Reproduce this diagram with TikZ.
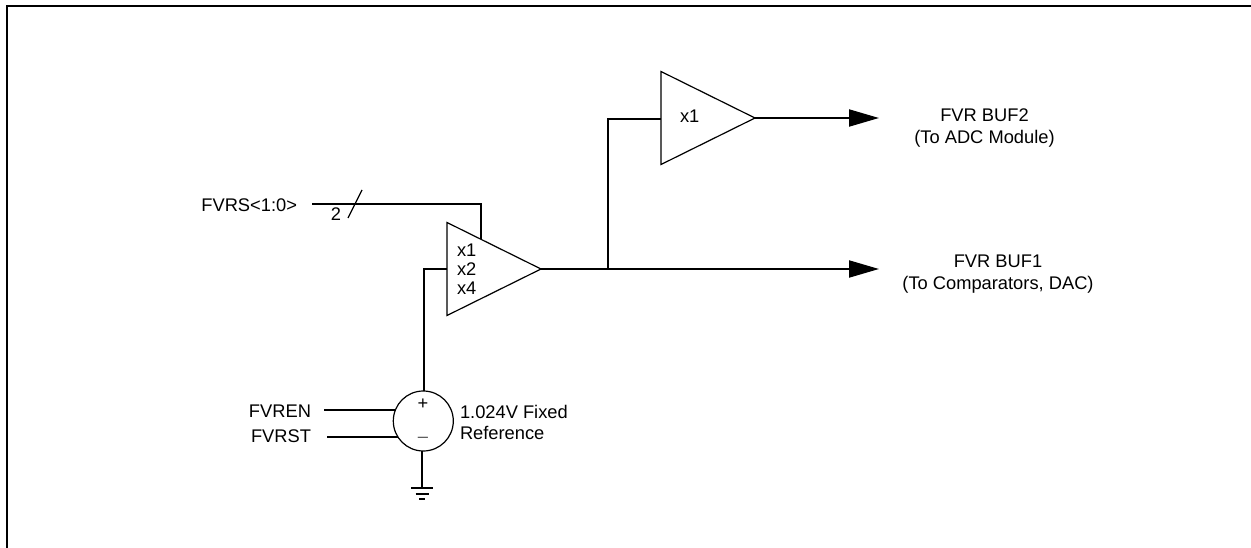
\documentclass[tikz,border=0pt]{standalone}
\usepackage{fontspec}
\setmainfont{Liberation Sans}
\usetikzlibrary{shapes.geometric,arrows.meta}
\tikzset{
  x=1pt,y=-1pt,
  wire/.style={line width=2pt,line cap=butt,line join=miter},
  amp/.style={draw,line width=1.2pt,isosceles triangle,isosceles triangle apex angle=53,isosceles triangle stretches,minimum width=93pt,minimum height=94pt,inner sep=0pt,outer sep=0pt,anchor=apex},
  src/.style={draw,line width=1.2pt,circle,minimum size=60pt,inner sep=0pt,outer sep=0pt},
  lbl/.style={font=\fontsize{18.3pt}{22pt}\selectfont,inner sep=0pt,outer sep=0pt,align=center},
  gain/.style={lbl,align=left,anchor=west},
  thinline/.style={line width=1.2pt},
  outwire/.style={wire,-{Triangle[length=30pt,width=17pt]}}
}
\begin{document}
\begin{tikzpicture}
\useasboundingbox (0,0) rectangle (1251,548);
\draw[wire] (7,548) -- (7,6) -- (1251,6);
\node[amp] (ampa) at (541,269) {};
\node[amp] (ampb) at (755,118) {};
\node[src] (vref) at (423.3,421) {};
\node[lbl,anchor=east] (fvrs) at (297,205.5) {FVRS<1:0>};
\node[lbl] (two) at (336,214.5) {2};
\node[lbl,anchor=east] (fvren) at (311,411) {FVREN};
\node[lbl,anchor=east] (fvrst) at (311,436) {FVRST};
\node[lbl,anchor=west,align=left,font=\fontsize{18.3pt}{21pt}\selectfont] (vtxt) at (460,422.5) {1.024V Fixed\\Reference};
\node[lbl] (plus) at (423,404) {+};
\node[lbl,text=black!65] (minus) at (423,440) {–};
\node[gain] (g1) at (457,250) {x1};
\node[gain] (g2) at (457,269) {x2};
\node[gain] (g3) at (457,288) {x4};
\node[gain] (gb) at (680,116) {x1};
\node[lbl] (buf2) at (984.5,128.5) {FVR BUF2\\(To ADC Module)};
\node[lbl] (buf1) at (998,274) {FVR BUF1\\(To Comparators, DAC)};
\coordinate (sbusl) at (312,204);
\coordinate (sbusr) at (481,204);
\coordinate (sbusd) at (481,239);
\coordinate (slasha) at (348,218);
\coordinate (slashb) at (362,190);
\coordinate (ena) at (324,410);
\coordinate (enb) at (395,410);
\coordinate (sta) at (327,437);
\coordinate (stb) at (398,437);
\coordinate (gnd) at (422,488);
\coordinate (inA) at (447,269);
\coordinate (inB) at (661,119);
\coordinate (tee) at (608,269);
\coordinate (endA) at (879,269);
\coordinate (endB) at (879,118);
\draw[wire] (sbusl) -- (sbusr) -- (sbusd);
\draw[thinline] (slasha) -- (slashb);
\draw[wire] (inA) -| ([xshift=0.7pt]vref.north);
\draw[wire] (ena) -- (enb);
\draw[wire] (sta) -- (stb);
\draw[wire] ([xshift=-1.3pt]vref.south) -- (gnd);
\draw[wire] ([xshift=-11pt]gnd) -- ([xshift=11pt]gnd);
\draw[wire] ([xshift=-6.5pt,yshift=-6pt]gnd) -- ([xshift=6.5pt,yshift=-6pt]gnd);
\draw[wire] ([xshift=-3pt,yshift=-11pt]gnd) -- ([xshift=3pt,yshift=-11pt]gnd);
\draw[outwire] (ampa.apex) -- (endA);
\draw[outwire] (ampb.apex) -- (endB);
\draw[wire] (tee) |- (inB);
\end{tikzpicture}
\end{document}
